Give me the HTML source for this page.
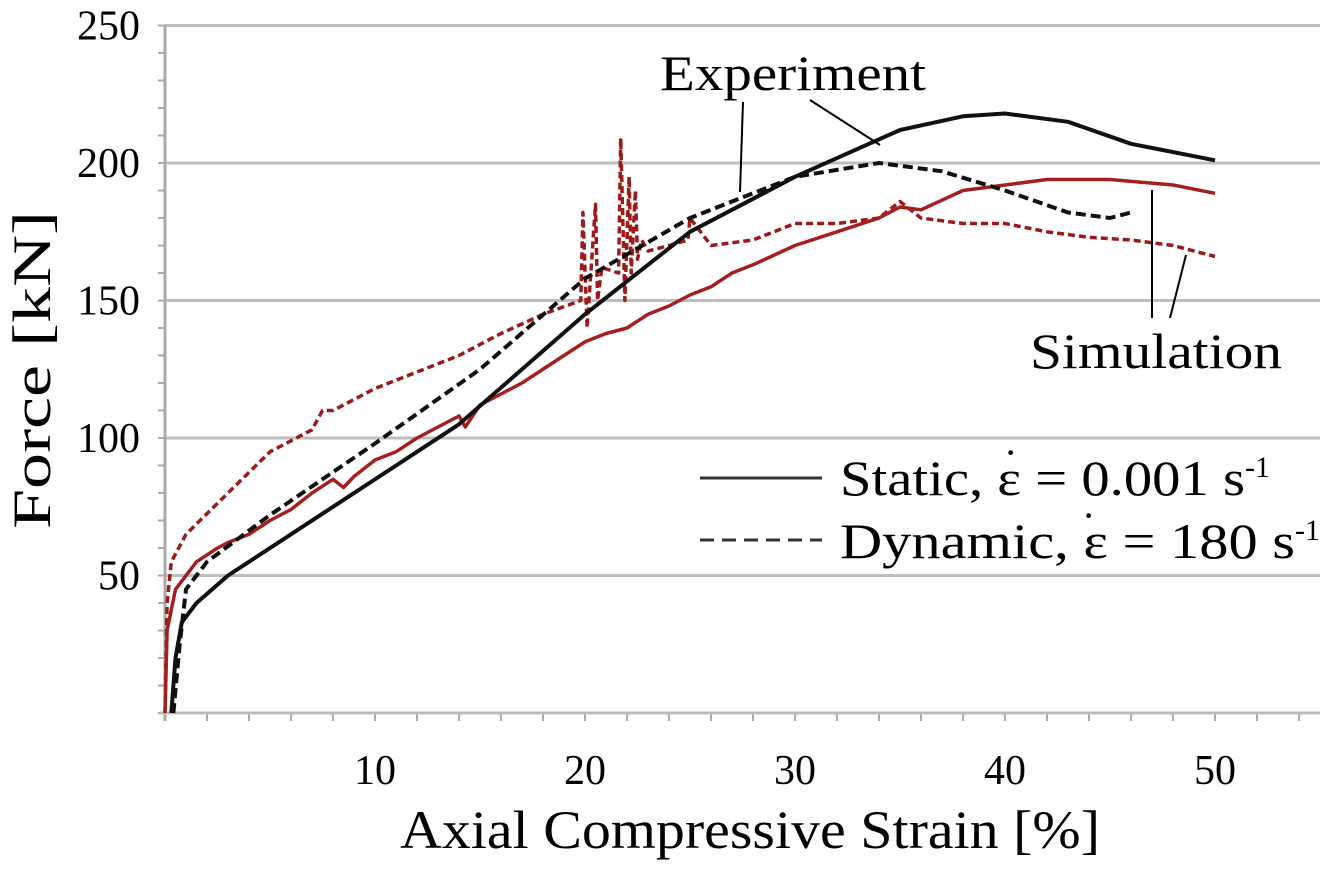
<!DOCTYPE html>
<html><head><meta charset="utf-8"><style>
body{margin:0;background:#fff}
svg{display:block;font-family:"Liberation Serif",serif}
</style></head><body>
<svg id="chart" width="1333" height="871">
<g id="grid"></g>
<g id="axes"></g>
<g id="series"></g>
<text x="50" y="370" font-size="54" text-anchor="middle" textLength="318" lengthAdjust="spacingAndGlyphs" transform="rotate(-90 50 370)">Force [kN]</text>
<text x="400" y="848" font-size="54" textLength="700" lengthAdjust="spacingAndGlyphs">Axial Compressive Strain [%]</text>
<g>
<text x="660" y="90" font-size="50" textLength="266" lengthAdjust="spacingAndGlyphs">Experiment</text>
<line x1="743" y1="102" x2="740" y2="192" stroke="#000" stroke-width="2"/>
<line x1="810" y1="100" x2="880" y2="145" stroke="#000" stroke-width="2"/>
</g>
<g>
<text x="1030" y="368" font-size="50" textLength="252" lengthAdjust="spacingAndGlyphs">Simulation</text>
<line x1="1152" y1="318" x2="1152" y2="190" stroke="#000" stroke-width="2"/>
<line x1="1170" y1="318" x2="1186" y2="255" stroke="#000" stroke-width="2"/>
</g>
<g>
<line x1="700" y1="478" x2="822" y2="478" stroke="#333" stroke-width="3"/>
<text x="840" y="495" font-size="50"><tspan textLength="405" lengthAdjust="spacingAndGlyphs">Static, ε = 0.001 s</tspan><tspan dy="-18" font-size="30">-1</tspan></text>
<text x="1004" y="466" font-size="40">·</text>
<line x1="700" y1="540" x2="822" y2="540" stroke="#333" stroke-width="3" stroke-dasharray="14,8"/>
<text x="840" y="558" font-size="50"><tspan textLength="455" lengthAdjust="spacingAndGlyphs">Dynamic, ε = 180 s</tspan><tspan dy="-18" font-size="30">-1</tspan></text>
<text x="1082" y="529" font-size="40">·</text>
</g>
</svg>
<script>
const xTicks=[10,20,30,40,50];
const yTicks=[50,100,150,200,250];
const staticExpX=[0.3,0.5,0.8,1.5,3,8,14,20,25,30,35,38,40,43,46,50];
const staticExpY=[0,20,33,40,50,75,105,145,175,195,212,217,218,215,207,201];
const dynExpX=[0.4,0.7,1,2,5,10,15,20,25,30,34,37,40,43,45,46];
const dynExpY=[0,25,45,55,72,98,125,158,180,195,200,197,190,182,180,182];
const staticSimX=[0,0.1,0.5,1.5,2.5,3,4,5,6,7,8,8.5,9,10,11,12,13,14,14.3,15,17,19,20,21,22,23,24,25,26,27,28,30,32,34,35,36,38,40,42,45,48,50];
const staticSimY=[0,30,45,55,60,62,65,70,74,80,85,82,86,92,95,100,104,108,104,112,120,130,135,138,140,145,148,152,155,160,163,170,175,180,184,183,190,192,194,194,192,189];
const dynSimX=[0,0.1,0.3,1,3,5,7,7.5,8,10,12,14,16,18,19.8,19.9,20.1,20.5,20.6,20.8,21.6,21.7,21.9,22.1,22.2,22.4,22.5,22.7,23,24,24.9,25,26,28,30,32,34,35,36,38,40,42,44,46,48,50];
const dynSimY=[0,40,55,65,80,95,103,110,110,118,124,130,138,145,150,182,140,185,150,162,160,209,150,195,160,190,165,172,168,170,172,180,170,172,178,178,180,186,180,178,178,175,173,172,170,166];
const X=v=>165+21*v, Y=v=>713-2.75*v;
const NS='http://www.w3.org/2000/svg';
function mk(tag,attrs,parent){const e=document.createElementNS(NS,tag);for(const k in attrs)e.setAttribute(k,attrs[k]);parent.appendChild(e);return e;}
const grid=document.getElementById('grid'),axes=document.getElementById('axes'),series=document.getElementById('series');
yTicks.forEach(t=>{
 const g=mk('line',{x1:165,x2:1320,y1:Y(t),y2:Y(t),stroke:'#bdbdbd','stroke-width':3},grid);
 
 
 const l=mk('text',{x:140,y:Y(t)+14,'font-size':42,'text-anchor':'end'},axes);l.textContent=t;
 
 
});
for(let v=0;v<=250;v+=10){mk('line',{x1:158,x2:165,y1:Y(v),y2:Y(v),stroke:'#aaa','stroke-width':2},axes);}
for(let v=0;v<=54;v+=2){mk('line',{x1:X(v),x2:X(v),y1:713,y2:721,stroke:'#aaa','stroke-width':2},axes);}
mk('line',{x1:165,x2:165,y1:25,y2:721,stroke:'#aaa','stroke-width':3},axes);
mk('line',{x1:160,x2:1320,y1:713,y2:713,stroke:'#bbb','stroke-width':3},axes);
xTicks.forEach(t=>{
 const l=mk('text',{x:X(t),y:784,'font-size':42,'text-anchor':'middle'},axes);l.textContent=t;
 
 
});
function line(xs,ys,color,dash,name,w){
 const d=xs.map((x,i)=>(i?'L':'M')+X(x).toFixed(1)+','+Y(ys[i]).toFixed(1)).join('');
 const p=mk('path',{d:d,fill:'none',stroke:color,'stroke-width':w,'stroke-linejoin':'round'},series);
 if(dash)p.setAttribute('stroke-dasharray',dash);
 
 
}
line(dynSimX,dynSimY,'#9b1b1b','7,4','dynamic-simulation-line',3.5);
line(staticSimX,staticSimY,'#a3201f',null,'static-simulation-line',3.5);
line(dynExpX,dynExpY,'#111','10,5','dynamic-experiment-line',4);
line(staticExpX,staticExpY,'#111',null,'static-experiment-line',4);
</script>
</body></html>
